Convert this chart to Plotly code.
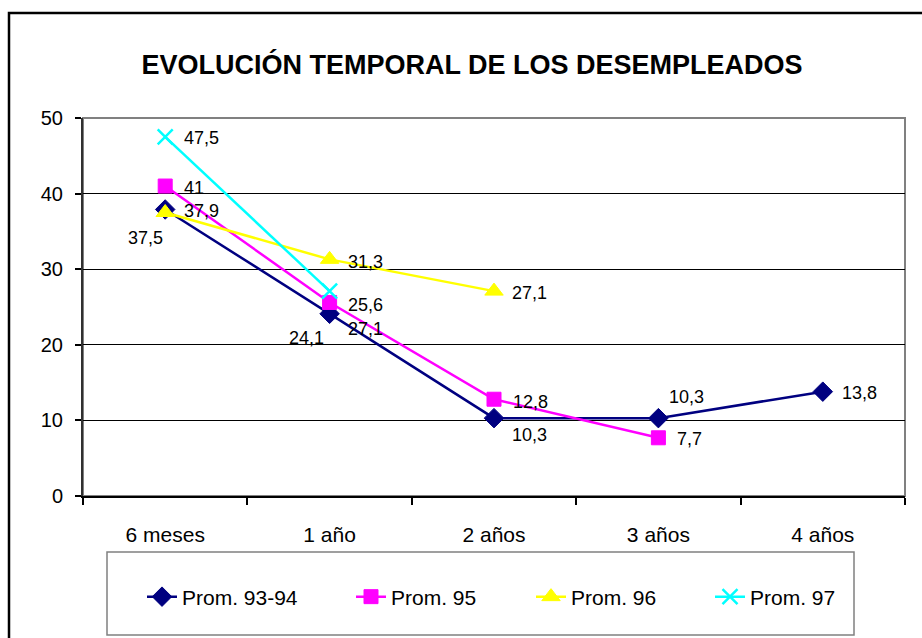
import plotly.graph_objects as go

categories = ["6 meses", "1 año", "2 años", "3 años", "4 años"]
series_names = ["Prom. 93-94", "Prom. 95", "Prom. 96", "Prom. 97"]
prom_93_94 = [37.9, 24.1, 10.3, 10.3, 13.8]
prom_95 = [41, 25.6, 12.8, 7.7]
prom_96 = [37.5, 31.3, 27.1]
prom_97 = [47.5, 27.1]
y_ticks = [0, 10, 20, 30, 40, 50]

W, H = 922, 638
L, R, T, B = 83, 17, 118, 142
PW, PH = W - L - R, H - T - B

def px_x(p):
    return (p - L) / PW

def px_y(p):
    return (H - B - p) / PH

colors = ["#000080", "#FF00FF", "#FFFF00", "#00FFFF"]
symbols = ["diamond", "square", "triangle-up", "x-thin-open"]
sizes = [15, 14, 16, 15]
values = [prom_93_94, prom_95, prom_96, prom_97]

# label placement per point: (xanchor, xshift, yshift)
label_style = [
    [("left", 17, -2), ("right", -4, -24), ("left", 16, -17), ("left", 9, 21), ("left", 17, -1)],
    [("left", 17, -2), ("left", 16, -3), ("left", 17, -3), ("left", 17, -1)],
    [("right", 0, -25), ("left", 16, -3), ("left", 16, -2)],
    [("left", 17, -1), ("left", 16, -38)],
]

legend_text_x = [184, 393, 573, 752]

fig = go.Figure()
for i, (name, vals) in enumerate(zip(series_names, values)):
    lname = "legend" if i == 0 else f"legend{i+1}"
    fig.add_trace(go.Scatter(
        x=categories[:len(vals)], y=vals, name=name, mode="lines+markers",
        line=dict(color=colors[i], width=2.5),
        marker=dict(symbol=symbols[i], size=sizes[i], color=colors[i],
                    line=dict(color=colors[i], width=2.5 if i == 3 else 1)),
        legend=lname, cliponaxis=False,
    ))

annotations = []
for i, vals in enumerate(values):
    for j, v in enumerate(vals):
        xa, xs, ys = label_style[i][j]
        annotations.append(dict(
            x=categories[j], y=v, xref="x", yref="y",
            text=f"{v:g}".replace(".", ","), showarrow=False,
            xanchor=xa, yanchor="middle", xshift=xs, yshift=ys,
            font=dict(family="Liberation Sans, Arial, sans-serif", size=18, color="#000000"),
        ))

shapes = [
    # plot area border
    dict(type="rect", xref="paper", yref="paper", x0=0, x1=1, y0=0, y1=1,
         line=dict(color="#808080", width=2), layer="between"),
    # legend box
    dict(type="rect", xref="paper", yref="paper",
         x0=px_x(107), x1=px_x(854), y0=px_y(635), y1=px_y(552),
         line=dict(color="#808080", width=1.5), layer="above"),
    # outer chart frame
    dict(type="rect", xref="paper", yref="paper",
         x0=px_x(9), x1=px_x(W + 40), y0=px_y(H + 40), y1=px_y(13),
         line=dict(color="#000000", width=2.5), layer="above"),
]

layout_legends = {}
for i in range(4):
    key = "legend" if i == 0 else f"legend{i+1}"
    layout_legends[key] = dict(
        x=px_x(legend_text_x[i] - 42), y=px_y(597), xanchor="left", yanchor="middle",
        xref="paper", yref="paper",
        orientation="h", bgcolor="rgba(0,0,0,0)", borderwidth=0,
        font=dict(family="Liberation Sans, Arial, sans-serif", size=21, color="#000000"),
    )

fig.update_layout(
    width=W, height=H,
    margin=dict(l=L, r=R, t=T, b=B, pad=0),
    paper_bgcolor="#FFFFFF", plot_bgcolor="#FFFFFF",
    title=dict(text="<b>EVOLUCIÓN TEMPORAL DE LOS DESEMPLEADOS</b>",
               x=px_x(472), xanchor="center", xref="paper",
               y=1 - 65 / H, yanchor="middle", yref="container",
               font=dict(family="Liberation Sans, Arial, sans-serif", size=27, color="#000000")),
    showlegend=True,
    annotations=annotations,
    shapes=shapes,
    xaxis=dict(type="category", categoryorder="array", categoryarray=categories,
               range=[-0.5, 4.5], tickson="boundaries", ticks="outside", ticklen=7,
               tickwidth=1.5, tickcolor="#000000", showline=True, linecolor="#000000",
               linewidth=2, showgrid=False, zeroline=False, ticklabelstandoff=19,
               tickfont=dict(family="Liberation Sans, Arial, sans-serif", size=21, color="#000000")),
    yaxis=dict(range=[0, 50], tickvals=y_ticks, ticks="outside", ticklen=6, tickwidth=1.5,
               tickcolor="#000000", showline=True, linecolor="#303030", linewidth=2,
               showgrid=True, gridcolor="#000000", gridwidth=1, zeroline=False,
               ticklabelstandoff=8,
               tickfont=dict(family="Liberation Sans, Arial, sans-serif", size=20, color="#000000")),
    **layout_legends,
)

fig.write_html("out.html", config={"displayModeBar": False},
               post_script="document.body.style.margin='0';")
